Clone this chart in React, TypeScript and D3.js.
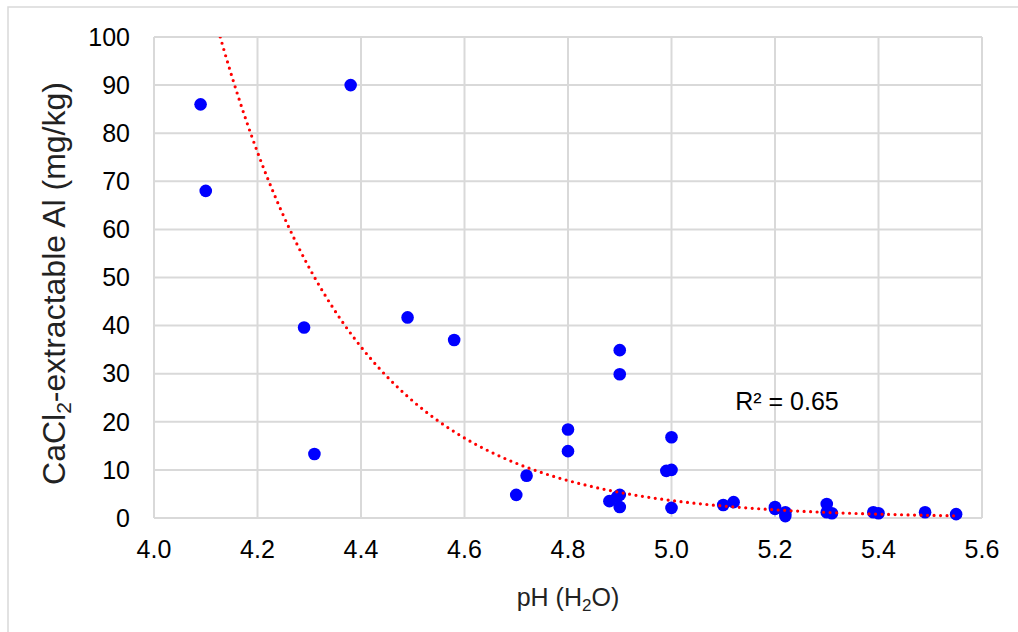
import React from 'react';
import * as d3 from 'd3';

// pH (H2O) and CaCl2-extractable Al (mg/kg)
const phValues = [4.09, 4.10, 4.29, 4.31, 4.38, 4.49, 4.58, 4.70, 4.72, 4.80, 4.80, 4.88, 4.895, 4.90, 4.90, 4.90, 4.90, 4.99, 5.00, 5.00, 5.00, 5.10, 5.12, 5.20, 5.20, 5.22, 5.22, 5.30, 5.30, 5.31, 5.39, 5.40, 5.49, 5.55];
const alValues = [86, 68, 39.6, 13.3, 90, 41.7, 37, 4.8, 8.8, 18.4, 13.9, 3.5, 4.4, 4.8, 2.3, 34.9, 29.9, 9.8, 10.0, 16.8, 2.1, 2.7, 3.3, 2.3, 1.9, 1.2, 0.4, 2.9, 1.2, 1.0, 1.2, 1.0, 1.2, 0.8];

const xTicks = [4.0, 4.2, 4.4, 4.6, 4.8, 5.0, 5.2, 5.4, 5.6];
const yTicks = [0, 10, 20, 30, 40, 50, 60, 70, 80, 90, 100];

// exponential trendline y = 100 * exp(rate * (x - x0))
const trendX0 = 4.128;
const trendRate = -3.8;
const trendEnd = 5.55;
const r2Label = 'R² = 0.65';

const W = 1018;
const H = 632;
const margin = { top: 37, right: 36, bottom: 114, left: 154 };

export default function App() {
  const xScale = d3.scaleLinear().domain([4.0, 5.6]).range([margin.left, W - margin.right]);
  const yScale = d3.scaleLinear().domain([0, 100]).range([H - margin.bottom, margin.top]);

  const points = phValues.map((x, i) => ({ x, y: alValues[i] }));

  const trendPts = d3.range(trendX0, trendEnd + 0.0001, 0.005).map(x => ({
    x,
    y: 100 * Math.exp(trendRate * (x - trendX0)),
  }));
  const line = d3.line<{ x: number; y: number }>()
    .x(d => xScale(d.x))
    .y(d => yScale(d.y));

  const font = 'Arial, "Liberation Sans", sans-serif';
  const fs = 25;
  const x0 = margin.left;
  const x1 = W - margin.right;
  const y0 = H - margin.bottom;
  const y1 = margin.top;

  return (
    <svg width={W} height={H} style={{ position: 'absolute', left: 0, top: 0, background: '#fff' }} fontFamily={font}>
      {/* outer chart border */}
      <rect x={8} y={7} width={W} height={H} fill="#fff" stroke="#d9d9d9" strokeWidth={1.5} />

      <defs>
        <clipPath id="plotClip">
          <rect x={x0} y={y1} width={x1 - x0} height={y0 - y1} />
        </clipPath>
      </defs>

      {/* gridlines */}
      {yTicks.map(t => (
        <line key={'gy' + t} x1={x0} x2={x1} y1={yScale(t)} y2={yScale(t)} stroke="#d9d9d9" strokeWidth={2} />
      ))}
      {xTicks.map(t => (
        <line key={'gx' + t} x1={xScale(t)} x2={xScale(t)} y1={y1} y2={y0} stroke="#d9d9d9" strokeWidth={2} />
      ))}

      {/* tick labels */}
      {yTicks.map(t => (
        <text key={'ty' + t} x={x0 - 24} y={yScale(t)} dy="0.35em" textAnchor="end" fontSize={fs} fill="#000">
          {t}
        </text>
      ))}
      {xTicks.map(t => (
        <text key={'tx' + t} x={xScale(t)} y={y0 + 40} textAnchor="middle" fontSize={fs} fill="#000">
          {t.toFixed(1)}
        </text>
      ))}

      {/* axis titles */}
      <text x={(x0 + x1) / 2} y={606} textAnchor="middle" fontSize={fs} fill="#222">
        pH (H<tspan fontSize={17} dy={5}>2</tspan><tspan dy={-5}>O)</tspan>
      </text>
      <text transform={`translate(65, ${(y0 + y1) / 2 + 6}) rotate(-90)`} textAnchor="middle" fontSize={32} fill="#222">
        CaCl<tspan fontSize={21} dy={6}>2</tspan><tspan dy={-6}>-extractable Al (mg/kg)</tspan>
      </text>

      {/* points */}
      {points.map((d, i) => (
        <circle key={i} cx={xScale(d.x)} cy={yScale(d.y)} r={6.3} fill="#0000ff" />
      ))}

      {/* trendline */}
      <path
        d={line(trendPts) || ''}
        fill="none"
        stroke="#ff0000"
        strokeWidth={3.2}
        strokeDasharray="0 6.5"
        strokeLinecap="round"
        clipPath="url(#plotClip)"
      />

      <text x={787} y={410} textAnchor="middle" fontSize={fs} fill="#000">
        {r2Label}
      </text>
    </svg>
  );
}
